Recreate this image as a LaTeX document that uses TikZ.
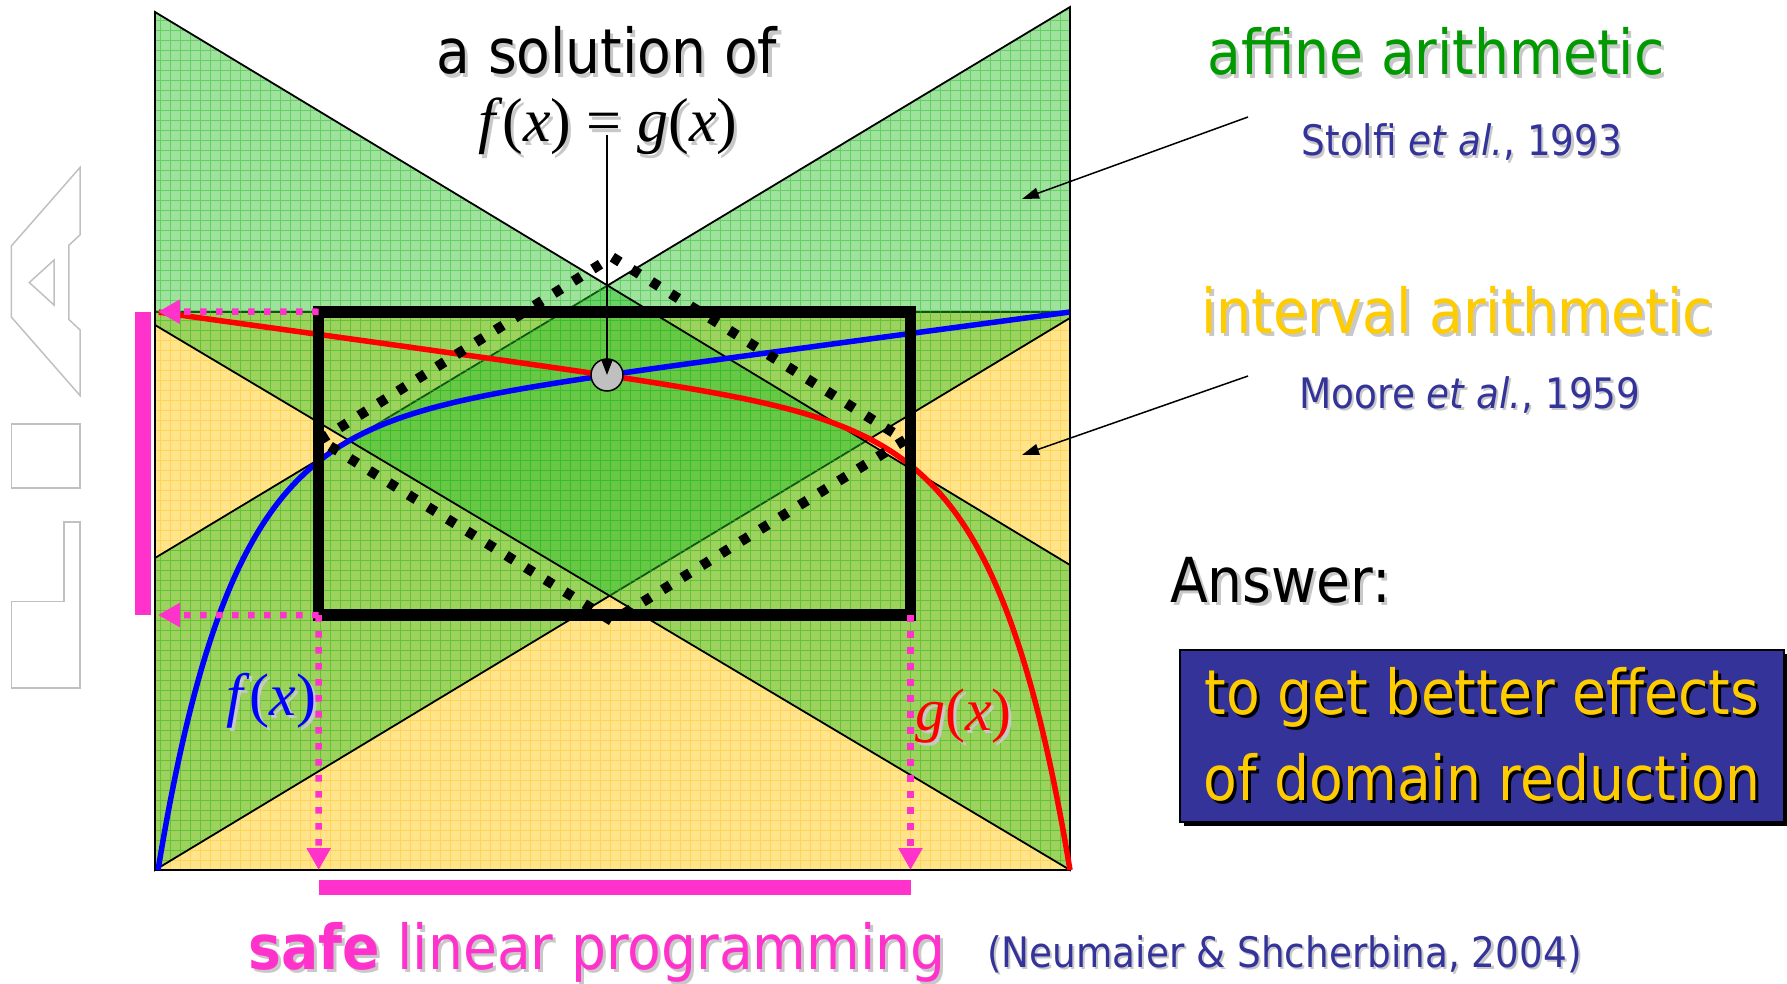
\documentclass[tikz,border=0pt]{standalone}
\usepackage{fontspec}
\setmainfont{DejaVu Sans}[FakeStretch=0.89]
\newfontfamily\eqfont{Liberation Serif}
\usetikzlibrary{arrows.meta, shadows}
\definecolor{affinegreen}{RGB}{0,153,0}
\definecolor{bandgreen}{RGB}{40,190,40}
\definecolor{intyellow}{RGB}{255,204,0}
\definecolor{boxyellow}{RGB}{255,228,140}
\definecolor{gridyellow}{RGB}{255,200,40}
\definecolor{citeblue}{RGB}{51,51,153}
\definecolor{lpmagenta}{RGB}{255,51,204}
\definecolor{logogray}{RGB}{192,192,192}
\definecolor{shadowgray}{RGB}{200,200,200}
\newcommand{\shtext}[2][shadowgray]{\makebox[0pt][l]{\hspace{0.05em}\raisebox{-0.05em}{\color{#1}#2}}#2}
\newcommand{\eqtxt}[1]{{\eqfont #1}}
\newcommand{\bigtxt}{\fontsize{62}{86}\selectfont}
\newcommand{\citetxt}{\fontsize{42}{50}\selectfont}
\newcommand{\eqsize}{\fontsize{62}{70}\selectfont}
\newcommand{\labsize}{\fontsize{60}{70}\selectfont}

\begin{document}
\begin{tikzpicture}[
    x=1pt, y=-1pt,
    edge/.style={line width=1.8pt, line join=miter},
    bandfill/.style={fill=bandgreen, fill opacity=0.45},
    gridline/.style={line width=0.7pt, draw=#1, draw opacity=0.5},
    curve/.style={line width=5.5pt, line join=round, #1},
    lpdots/.style={lpmagenta, line width=6.5pt, dash pattern=on 6.5pt off 9.5pt, -{Triangle[length=22pt, width=23pt]}},
    diamonddots/.style={line width=10pt, dash pattern=on 9pt off 14pt},
    bigtext/.style={font=\bigtxt, inner sep=0pt},
    cite/.style={font=\citetxt, text=citeblue, inner sep=0pt},
    pointer/.style={line width=1.5pt, -{Triangle[length=#1, width=11pt]}},
    logo/.style={draw=logogray, line width=1.5pt, line join=miter}
]
\useasboundingbox (0,0) rectangle (1787,984);

% LIA logo
\draw[logo] (80,167.5) -- (80,234.9) -- (68.9,245.2) -- (68.9,319.5) -- (80,329.9) -- (80,395.5) -- (11.4,317.1) -- (11.4,245.9) -- cycle;
\draw[logo] (54,260.1) -- (54,305) -- (29.3,282.5) -- cycle;
\draw[logo] (11.4,424) rectangle (80,488);
\draw[logo] (63.8,522) -- (80,522) -- (80,688) -- (11.4,688) -- (11.4,601.5) -- (63.8,601.5) -- cycle;

% interval arithmetic
\fill[boxyellow] (155,312) rectangle (1070,870);
\begin{scope}
    \clip (155,312) rectangle (1070,870);
    \draw[gridline=gridyellow, step=10pt] (150,875) grid (1075,0);
\end{scope}
\draw[edge] (155,312) rectangle (1070,870);

% affine arithmetic, f and g
\begin{scope}
    \clip (155,558) -- (1070,7) -- (1070,318) -- (155,870) -- cycle;
    \fill[bandfill] (150,0) rectangle (1075,875);
    \draw[gridline=bandgreen, step=10pt] (150,875) grid (1075,0);
\end{scope}
\draw[edge] (155,558) -- (1070,7) -- (1070,318) -- (155,870) -- cycle;
\begin{scope}
    \clip (155,12) -- (1070,565) -- (1070,870) -- (155,325) -- cycle;
    \fill[bandfill] (150,0) rectangle (1075,875);
    \draw[gridline=bandgreen, step=10pt] (150,875) grid (1075,0);
\end{scope}
\draw[edge] (155,12) -- (1070,565) -- (1070,870) -- (155,325) -- cycle;

\draw[curve=blue] plot[domain=0:1, samples=300, variable=\t] ({158+912*\t}, {870-558*(0.78*(1-exp(-\t/0.08))+0.22*\t)});
\draw[curve=red] plot[domain=0:1, samples=300, variable=\t] ({1070-912*\t}, {870-558*(0.772*(1-exp(-\t/0.08))+0.228*\t)});

\node[anchor=base west, inner sep=0pt, font=\labsize, text=blue] (flabel) at (226,715) {\shtext{\eqtxt{\textit{f}(\textit{x})}}};
\node[anchor=base west, inner sep=0pt, font=\labsize, text=red] (glabel) at (915,730) {\shtext{\eqtxt{\textit{g}(\textit{x})}}};

\node[draw, line width=11.5pt, minimum width=591.8pt, minimum height=303.3pt, inner sep=0pt, outer sep=0pt] (box) at (614.6,463.4) {};
\draw[diamonddots] (320,440) -- (612,257) -- (905,440) -- (612,621) -- cycle;

% safe linear programming
\coordinate (ytop) at (158,311.7);
\coordinate (ybot) at (158,615);
\coordinate (xlo) at (318.7,870);
\coordinate (xhi) at (910.5,870);
\draw[lpdots] (box.north west) -- (ytop);
\draw[lpdots] (box.south west) -- (ybot);
\draw[lpdots] (box.south west) -- (xlo);
\draw[lpdots] (box.south east) -- (xhi);
\fill[lpmagenta] (135,311.7) rectangle (151,615);
\fill[lpmagenta] (318.7,880) rectangle (910.5,895);

% the solution
\node[bigtext, anchor=base] (soltext) at (607,74) {\shtext{a solution of}};
\node[anchor=base west, inner sep=0pt, font=\eqsize] (eq) at (478,142) {\shtext{\eqtxt{\textit{f}(\textit{x}) = \textit{g}(\textit{x})}}};
\coordinate (eqfoot) at (607,135);
\node[circle, draw, line width=1.5pt, fill=logogray, minimum size=32pt, inner sep=0pt] (sol) at (607,375) {};
\draw[pointer=15pt] (eqfoot) -- (sol.center);

% labels on the right
\node[bigtext, text=affinegreen, anchor=base] (aatext) at (1436,75) {\shtext{affine arithmetic}};
\node[cite, anchor=base] (aacite) at (1462,156) {\shtext{Stolfi \textit{et al.}, 1993}};
\coordinate (aastart) at (1248,117);
\coordinate (aaend) at (1022,199);
\draw[pointer=17pt] (aastart) -- (aaend);
\node[bigtext, text=intyellow, anchor=base] (iatext) at (1457,333) {\shtext{interval arithmetic}};
\node[cite, anchor=base] (iacite) at (1470,408) {\shtext{Moore \textit{et al.}, 1959}};
\coordinate (iastart) at (1248,376);
\coordinate (iaend) at (1022,455);
\draw[pointer=17pt] (iastart) -- (iaend);

\node[bigtext, anchor=base west] (answer) at (1170,602) {\shtext{Answer:}};
\node[draw=black, line width=2.5pt, fill=citeblue, minimum width=604pt, minimum height=172pt, inner sep=0pt, align=center, font=\bigtxt, text=intyellow, drop shadow={shadow xshift=4pt, shadow yshift=-4pt, fill=black, opacity=1}] (goal) at (1482,736) {\shtext[black]{to get better effects}\\\shtext[black]{of domain reduction}};

\node[bigtext, text=lpmagenta, anchor=base] (lptext) at (597,969) {\shtext{\textbf{safe} linear programming}};
\node[cite, anchor=base west] (lpcite) at (987,967) {\shtext{(Neumaier \& Shcherbina, 2004)}};
\end{tikzpicture}
\end{document}
